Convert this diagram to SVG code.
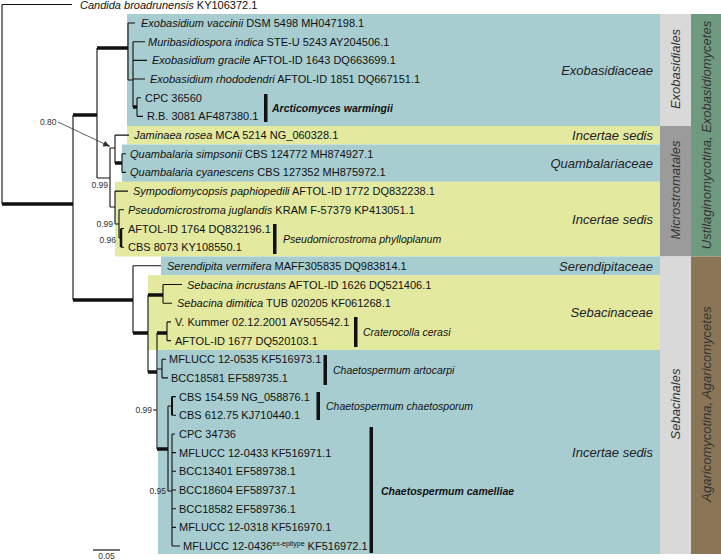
<svg xmlns="http://www.w3.org/2000/svg" width="721" height="560" viewBox="0 0 721 560">
<style>
.bg{fill:#ffffff}
.blue{fill:#a8cdd1}
.yel{fill:#e3e99f}
.lg{fill:#d9d9d9}
.dg{fill:#9b9b9b}
.grn{fill:#6f9a80}
.brn{fill:#8a7657}
.t{font-family:"Liberation Sans",Arial,sans-serif;font-size:11px;fill:#111}
.i{font-style:italic}
.fam{font-family:"Liberation Sans",Arial,sans-serif;font-size:13px;font-style:italic;fill:#222;text-anchor:end}
.ord{font-family:"Liberation Sans",Arial,sans-serif;font-size:13px;font-style:italic;fill:#333;text-anchor:middle}
.cl{font-family:"Liberation Sans",Arial,sans-serif;font-size:10.5px;font-style:italic;fill:#111}
.clb{font-weight:bold}
.pp{font-family:"Liberation Sans",Arial,sans-serif;font-size:8.5px;fill:#333}
.ppr{text-anchor:end}
.br{stroke:#111;stroke-width:1.1;fill:none}
.th{stroke:#111;stroke-width:3.5;fill:none}
.bar{fill:#111}
</style>
<defs>
<marker id="ah" markerWidth="8" markerHeight="8" refX="7" refY="4" orient="auto" markerUnits="userSpaceOnUse">
<path d="M0,1 L7,4 L0,7 z" fill="#333"/>
</marker>
</defs>
<rect class="bg" x="0" y="0" width="721" height="560"/>

<g id="bands">
<rect class="blue" x="127" y="14" width="533" height="112"/>
<rect class="yel" x="127" y="126" width="533" height="18.5"/>
<rect class="blue" x="122" y="144.5" width="538" height="37.3"/>
<rect class="yel" x="115" y="181.8" width="545" height="74.7"/>
<rect class="blue" x="161" y="256.5" width="499" height="18.7"/>
<rect class="yel" x="148" y="275.2" width="512" height="74.8"/>
<rect class="blue" x="158" y="350" width="502" height="204"/>
<rect class="lg" x="660" y="14" width="31" height="112"/>
<rect class="dg" x="660" y="126" width="31" height="130.5"/>
<rect class="lg" x="660" y="256.5" width="31" height="297.5"/>
<rect class="grn" x="691" y="14" width="30" height="242.5"/>
<rect class="brn" x="691" y="256.5" width="30" height="297.5"/>
</g>

<g id="connectors">
<path class="br" d="M2,4.5 H72 M2,4.5 V204 M73,115 V300 M97,48 V178 M97,178 H110 M128,23 V80 M128,23 H135 M128,80 H133 M133,41.7 V107 M133,41.7 H145 M133,60.4 H147 M133,79 H145 M137,97.7 V116.4 M137,97.7 H141 M137,116.4 H143"/>
<path class="th" d="M2,204 H73 M73,115 H97 M73,300 H133 M97,48 H128 M133,107 H137"/>
<path class="br" d="M110,148 V207 M110,148 H115 M115,135.1 V163 M115,135.1 H129 M122,153.8 V172.4 M122,153.8 H126 M122,172.4 H126 M110,207 H115 M115,191.1 V224 M115,191.1 H128 M115,224 H119 M119,209.8 V238 M119,209.8 H124 M119,238 H121 M121,228.5 H124 M121,247.2 H124"/>
<path class="th" d="M115,163 H122"/>
<path stroke="#111" stroke-width="2.5" fill="none" d="M121,228.5 V247.2"/>
<path class="br" d="M133,265.8 V333 M133,265.8 H161 M148,295 V372 M163,284.5 V303.2 M163,284.5 H182 M163,303.2 H172 M157,333 V449 M167,321.9 V340.6 M167,321.9 H171 M167,340.6 H171 M157,369 H162 M162,359.2 V377.9 M162,359.2 H166 M162,377.9 H168 M168,406 V491 M168,406 H172 M172,396.6 H176 M172,415.3 H176 M168,491 H172 M172,434 V546 M172,434 H175 M172,452.6 H176 M172,471.3 H176 M172,490 H176 M172,508.7 H176 M172,527.4 H176 M172,546 H180 M153,410 H157"/>
<path stroke="#111" stroke-width="2" fill="none" d="M172,396.6 V415.3"/>
<path class="th" d="M133,333 H148 M148,295 H163 M148,372 H157 M157,333 H167 M157,449 H168"/>
<path stroke="#333" stroke-width="0.8" fill="none" d="M58,122 L110,146.5" marker-end="url(#ah)"/>
<path stroke="#111" stroke-width="1.2" d="M93,550 H120"/>
</g>

<g id="support">
<text class="pp" x="40" y="125">0.80</text>
<text class="pp ppr" x="108" y="188">0.99</text>
<text class="pp ppr" x="113" y="227">0.99</text>
<text class="pp ppr" x="116" y="243">0.96</text>
<text class="pp ppr" x="152" y="413">0.99</text>
<text class="pp ppr" x="166" y="494">0.95</text>
<text class="pp" x="106.5" y="559" text-anchor="middle">0.05</text>
</g>

<g id="taxa">
<text class="t" x="80" y="8.5"><tspan class="i">Candida broadrunensis</tspan> KY106372.1</text>
<text class="t" x="141" y="27"><tspan class="i">Exobasidium vaccinii</tspan> DSM 5498 MH047198.1</text>
<text class="t" x="148" y="45.7"><tspan class="i">Muribasidiospora indica</tspan> STE-U 5243 AY204506.1</text>
<text class="t" x="152" y="64.4"><tspan class="i">Exobasidium gracile</tspan> AFTOL-ID 1643 DQ663699.1</text>
<text class="t" x="150" y="83"><tspan class="i">Exobasidium rhododendri</tspan> AFTOL-ID 1851 DQ667151.1</text>
<text class="t" x="145" y="101.7">CPC 36560</text>
<text class="t" x="147" y="120.4">R.B. 3081 AF487380.1</text>
<text class="t" x="134" y="139.1"><tspan class="i">Jaminaea rosea</tspan> MCA 5214 NG_060328.1</text>
<text class="t" x="130" y="157.8"><tspan class="i">Quambalaria simpsonii</tspan> CBS 124772 MH874927.1</text>
<text class="t" x="130" y="176.4"><tspan class="i">Quambalaria cyanescens</tspan> CBS 127352 MH875972.1</text>
<text class="t" x="133" y="195.1"><tspan class="i">Sympodiomycopsis paphiopedili</tspan> AFTOL-ID 1772 DQ832238.1</text>
<text class="t" x="128" y="213.8"><tspan class="i">Pseudomicrostroma juglandis</tspan> KRAM F-57379 KP413051.1</text>
<text class="t" x="128" y="232.5">AFTOL-ID 1764 DQ832196.1</text>
<text class="t" x="128" y="251.2">CBS 8073 KY108550.1</text>
<text class="t" x="167" y="269.8"><tspan class="i">Serendipita vermifera</tspan> MAFF305835 DQ983814.1</text>
<text class="t" x="187" y="288.5"><tspan class="i">Sebacina incrustans</tspan> AFTOL-ID 1626 DQ521406.1</text>
<text class="t" x="177" y="307.2"><tspan class="i">Sebacina dimitica</tspan> TUB 020205 KF061268.1</text>
<text class="t" x="175" y="325.9">V. Kummer 02.12.2001 AY505542.1</text>
<text class="t" x="175" y="344.6">AFTOL-ID 1677 DQ520103.1</text>
<text class="t" x="169" y="363.2">MFLUCC 12-0535 KF516973.1</text>
<text class="t" x="171" y="381.9">BCC18581 EF589735.1</text>
<text class="t" x="179" y="400.6">CBS 154.59 NG_058876.1</text>
<text class="t" x="179" y="419.3">CBS 612.75 KJ710440.1</text>
<text class="t" x="179" y="438">CPC 34736</text>
<text class="t" x="179" y="456.6">MFLUCC 12-0433 KF516971.1</text>
<text class="t" x="179" y="475.3">BCC13401 EF589738.1</text>
<text class="t" x="179" y="494">BCC18604 EF589737.1</text>
<text class="t" x="179" y="512.7">BCC18582 EF589736.1</text>
<text class="t" x="179" y="531.4">MFLUCC 12-0318 KF516970.1</text>
<text class="t" x="183" y="550">MFLUCC 12-0436<tspan font-size="7" dy="-4">ex-epitype</tspan><tspan dy="4"> KF516972.1</tspan></text>
</g>

<g id="clades">
<rect class="bar" x="264" y="94" width="3.5" height="28"/>
<text class="cl clb" x="272" y="112">Arcticomyces warmingii</text>
<rect class="bar" x="273" y="224" width="3.5" height="30"/>
<text class="cl" x="283" y="243">Pseudomicrostroma phylloplanum</text>
<rect class="bar" x="354" y="317" width="3.5" height="30"/>
<text class="cl" x="363" y="336">Craterocolla cerasi</text>
<rect class="bar" x="323.5" y="355" width="3.5" height="30"/>
<text class="cl" x="333" y="374">Chaetospermum artocarpi</text>
<rect class="bar" x="316.5" y="392" width="3.5" height="28"/>
<text class="cl" x="326" y="410">Chaetospermum chaetosporum</text>
<rect class="bar" x="369.5" y="427" width="3.5" height="126"/>
<text class="cl clb" x="381" y="495">Chaetospermum camelliae</text>
</g>

<g id="families">
<text class="fam" x="653" y="74.5">Exobasidiaceae</text>
<text class="fam" x="653" y="140">Incertae sedis</text>
<text class="fam" x="653" y="167.5">Quambalariaceae</text>
<text class="fam" x="653" y="223.5">Incertae sedis</text>
<text class="fam" x="653" y="270.5">Serendipitaceae</text>
<text class="fam" x="653" y="316.5">Sebacinaceae</text>
<text class="fam" x="653" y="456.5">Incertae sedis</text>
</g>

<g id="orders">
<text class="ord" transform="translate(675,69) rotate(-90)" y="4.7">Exobasidiales</text>
<text class="ord" transform="translate(675,190) rotate(-90)" y="4.7">Microstromatales</text>
<text class="ord" transform="translate(675,404) rotate(-90)" y="4.7">Sebacinales</text>
<text class="ord" transform="translate(706,135) rotate(-90)" y="4.7">Ustilaginomycotina, Exobasidiomycetes</text>
<text class="ord" transform="translate(706,404) rotate(-90)" y="4.7">Agaricomycotina, Agaricomycetes</text>
</g>
</svg>
